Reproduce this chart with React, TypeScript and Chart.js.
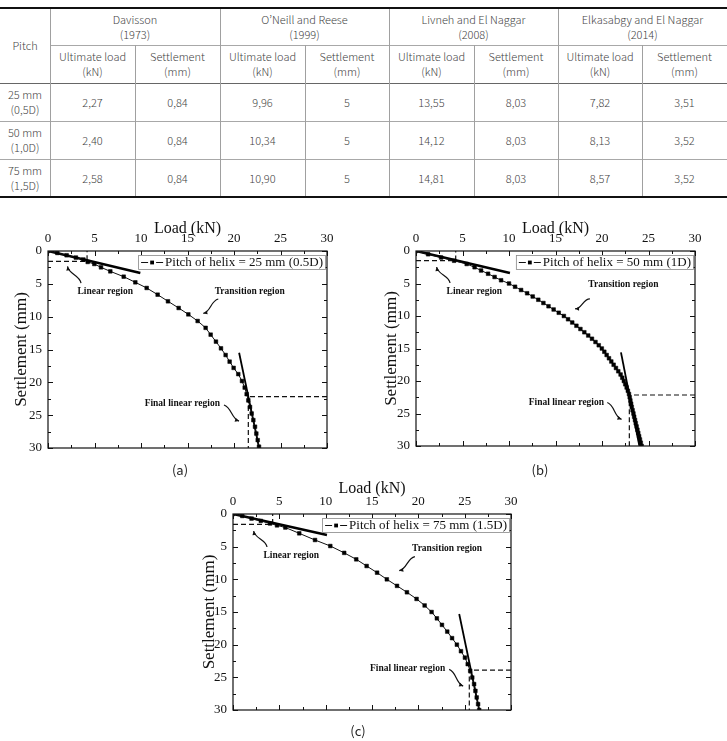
import React, { useEffect, useRef } from 'react';
import { Chart, registerables } from 'chart.js';

Chart.register(...registerables);

const SERIF = '"Liberation Serif", "Times New Roman", serif';
const SANS = '"Noto Sans CJK KR", "Noto Sans", sans-serif';

// ---------- Table: ultimate capacity by interpretation method ----------
const methodNames = ['Davisson', 'O\u2019Neill and Reese', 'Livneh and El Naggar', 'Elkasabgy and El Naggar'];
const methodYears = ['(1973)', '(1999)', '(2008)', '(2014)'];
const pitchNames = ['25 mm', '50 mm', '75 mm'];
const pitchRatios = ['(0,5D)', '(1,0D)', '(1,5D)'];
const davissonLoad = [2.27, 2.4, 2.58];
const davissonSettlement = [0.84, 0.84, 0.84];
const oneillLoad = [9.96, 10.34, 10.9];
const oneillSettlement = [5, 5, 5];
const livnehLoad = [13.55, 14.12, 14.81];
const livnehSettlement = [8.03, 8.03, 8.03];
const elkasabgyLoad = [7.82, 8.13, 8.57];
const elkasabgySettlement = [3.51, 3.52, 3.52];

// ---------- Axes ----------
const axisMin = 0;
const axisMax = 30;
const majorStep = 5;
const minorStep = 2.5;

// ---------- Load–settlement curves ----------
const label25 = 'Pitch of helix = 25 mm (0.5D)';
const load25 = [0, 1.0, 2.0, 3.0, 3.8, 4.27, 4.98, 5.7, 6.7, 8.14, 9.39, 10.61, 11.79, 12.9, 14.05, 15.09, 16.09, 16.95, 17.49, 18.06, 18.6, 19.1, 19.53, 19.96, 20.46, 20.86, 21.15, 21.36, 21.54, 21.72, 21.9, 22.08, 22.26, 22.4, 22.55, 22.69];
const settle25 = [0, 0.3, 0.65, 1.0, 1.3, 1.67, 1.98, 2.49, 3.1, 3.91, 4.77, 5.63, 6.65, 7.66, 8.68, 9.65, 10.66, 11.7, 12.74, 13.8, 14.82, 15.84, 16.85, 17.8, 18.75, 19.8, 20.8, 21.8, 22.75, 23.75, 24.75, 25.75, 26.76, 27.8, 28.8, 29.8];

const label50 = 'Pitch of helix = 50 mm (1D)';
const load50 = [0, 1.3, 2.7, 4.1, 5.45, 6.3, 7.0, 7.75, 8.45, 9.15, 10.0, 10.65, 11.3, 11.95, 12.55, 13.15, 13.7, 14.25, 14.8, 15.35, 15.9, 16.35, 16.8, 17.25, 17.68, 18.1, 18.52, 18.92, 19.3, 19.65, 19.98, 20.25, 20.5, 20.75, 21.0, 21.25, 21.5, 21.75, 22.0, 22.18, 22.35, 22.5, 22.65, 22.78, 22.9, 22.98, 23.05, 23.13, 23.2, 23.29, 23.38, 23.46, 23.55, 23.63, 23.72, 23.81, 23.9, 23.99, 24.08, 24.17, 24.27];
const settle50 = [0, 0.5, 1.0, 1.5, 2.0, 2.5, 3.0, 3.5, 4.0, 4.5, 5.0, 5.5, 6.0, 6.5, 7.0, 7.5, 8.0, 8.5, 9.0, 9.5, 10.0, 10.5, 11.0, 11.5, 12.0, 12.5, 13.0, 13.5, 14.0, 14.5, 15.0, 15.5, 16.0, 16.5, 17.0, 17.5, 18.0, 18.5, 19.0, 19.5, 20.0, 20.5, 21.0, 21.5, 22.0, 22.5, 23.0, 23.5, 24.0, 24.5, 25.0, 25.5, 26.0, 26.5, 27.0, 27.5, 28.0, 28.5, 29.0, 29.5, 30.0];

const label75 = 'Pitch of helix = 75 mm (1.5D)';
const load75 = [0, 1.0, 2.0, 3.0, 4.0, 4.75, 5.65, 7.15, 8.85, 10.5, 12.0, 13.3, 14.42, 15.55, 16.6, 17.7, 18.77, 19.81, 20.68, 21.43, 22.0, 22.55, 23.12, 23.64, 24.16, 24.6, 25.03, 25.33, 25.6, 25.82, 26.02, 26.16, 26.3, 26.45, 26.57];
const settle75 = [0, 0.3, 0.7, 1.05, 1.45, 1.74, 2.07, 2.96, 3.98, 4.9, 5.95, 6.94, 7.96, 8.98, 10.0, 11.0, 11.98, 13.0, 14.0, 15.0, 15.97, 16.97, 18.0, 19.0, 20.0, 21.0, 21.98, 22.98, 24.0, 25.03, 26.04, 27.07, 28.08, 29.1, 30];

// ---------- Tangent lines (initial and final linear regions) ----------
const initialFitLoad25 = [0, 9.93];
const initialFitSettle25 = [0, 3.35];
const finalFitLoad25 = [20.55, 22.7];
const finalFitSettle25 = [15.5, 30];

const initialFitLoad50 = [0, 10.1];
const initialFitSettle50 = [0, 3.38];
const finalFitLoad50 = [22.04, 24.02];
const finalFitSettle50 = [15.6, 30];

const initialFitLoad75 = [0, 10.14];
const initialFitSettle75 = [0, 3.22];
const finalFitLoad75 = [24.41, 26.57];
const finalFitSettle75 = [15.3, 30];

// ---------- Dashed guide lines ----------
const initialGuideLoad25 = [0, 4.2, 4.2];
const initialGuideSettle25 = [1.57, 1.57, 0];
const ultimateGuideLoad25 = [30, 21.54, 21.54];
const ultimateGuideSettle25 = [22.18, 22.18, 30];

const initialGuideLoad50 = [0, 4.27, 4.27];
const initialGuideSettle50 = [1.49, 1.49, 0];
const ultimateGuideLoad50 = [30, 22.94, 22.94];
const ultimateGuideSettle50 = [22.15, 22.15, 30];

const initialGuideLoad75 = [0, 4.28, 4.28];
const initialGuideSettle75 = [1.58, 1.58, 0];
const ultimateGuideLoad75 = [30, 25.5, 25.5];
const ultimateGuideSettle75 = [23.9, 23.9, 30];

type Note = { text: string; x: number; y: number };
type Pointer = { from: [number, number]; to: [number, number]; bend: number };

const notes25: Note[] = [
  { text: 'Linear region', x: 6.15, y: 6.15 },
  { text: 'Transition region', x: 21.69, y: 6.2 },
  { text: 'Final linear region', x: 14.44, y: 23.3 },
];
const pointers25: Pointer[] = [
  { from: [3.55, 4.9], to: [2.1, 2.35], bend: 4 },
  { from: [18.31, 7.31], to: [16.7, 9.5], bend: 4 },
  { from: [18.92, 23.45], to: [20.54, 25.9], bend: -4 },
];
const notes50: Note[] = [
  { text: 'Linear region', x: 6.27, y: 6.3 },
  { text: 'Transition region', x: 22.3, y: 5.23 },
  { text: 'Final linear region', x: 16.17, y: 23.3 },
];
const pointers50: Pointer[] = [
  { from: [3.66, 4.92], to: [2.22, 2.46], bend: 4 },
  { from: [18.7, 7.38], to: [17.1, 8.9], bend: 4 },
  { from: [20.57, 23.3], to: [22.1, 25.9], bend: -4 },
];
const notes75: Note[] = [
  { text: 'Linear region', x: 6.29, y: 6.43 },
  { text: 'Transition region', x: 23.1, y: 5.25 },
  { text: 'Final linear region', x: 18.84, y: 23.6 },
];
const pointers75: Pointer[] = [
  { from: [3.67, 5.05], to: [2.23, 2.6], bend: 4 },
  { from: [19.63, 6.53], to: [17.94, 8.68], bend: 4 },
  { from: [23.33, 23.78], to: [24.84, 26.34], bend: -4 },
];

const zip = (xs: number[], ys: number[]) => xs.map((v, i) => ({ x: v, y: ys[i] }));

function formatValue(v: number): string {
  return Number.isInteger(v) ? String(v) : v.toFixed(2).replace('.', ',');
}

type CurveProps = {
  left: number;
  top: number;
  width: number;
  height: number;
  yAxisWidth: number;
  xAxisHeight: number;
  padRight: number;
  padBottom: number;
  yTitlePad: number;
  xTitlePad: number;
  label: string;
  load: number[];
  settlement: number[];
  initialFit: [number[], number[]];
  finalFit: [number[], number[]];
  initialGuide: [number[], number[]];
  ultimateGuide: [number[], number[]];
  notes: Note[];
  pointers: Pointer[];
};

function drawPointer(ctx: CanvasRenderingContext2D, x0: number, y0: number, x1: number, y1: number, bend: number) {
  const dx = x1 - x0;
  const dy = y1 - y0;
  const len = Math.hypot(dx, dy) || 1;
  const nx = -dy / len;
  const ny = dx / len;
  const c1x = x0 + dx / 3 + nx * bend;
  const c1y = y0 + dy / 3 + ny * bend;
  const c2x = x0 + (2 * dx) / 3 - nx * bend;
  const c2y = y0 + (2 * dy) / 3 - ny * bend;
  ctx.beginPath();
  ctx.moveTo(x0, y0);
  ctx.bezierCurveTo(c1x, c1y, c2x, c2y, x1, y1);
  ctx.lineWidth = 1.2;
  ctx.stroke();
  const ang = Math.atan2(y1 - c2y, x1 - c2x);
  const h = 4.5;
  ctx.beginPath();
  ctx.moveTo(x1, y1);
  ctx.lineTo(x1 - h * Math.cos(ang - 0.45), y1 - h * Math.sin(ang - 0.45));
  ctx.lineTo(x1 - h * Math.cos(ang + 0.45), y1 - h * Math.sin(ang + 0.45));
  ctx.closePath();
  ctx.fill();
}

function CurveChart(p: CurveProps) {
  const ref = useRef<HTMLCanvasElement | null>(null);

  useEffect(() => {
    if (!ref.current) return;

    const decor = {
      id: 'decor',
      afterDatasetsDraw(chart: any) {
        const { ctx, chartArea: a, scales } = chart;
        const xs = scales.x;
        const ys = scales.y;
        ctx.save();
        // plot frame
        ctx.strokeStyle = '#111';
        ctx.lineWidth = 1.2;
        ctx.strokeRect(a.left, a.top, a.right - a.left, a.bottom - a.top);
        // inward ticks on all four sides
        ctx.beginPath();
        ctx.lineWidth = 1;
        for (let v = axisMin; v <= axisMax + 1e-9; v += minorStep) {
          const len = Math.abs(v % majorStep) < 1e-9 ? 5 : 3;
          const px = Math.round(xs.getPixelForValue(v)) + 0.5;
          ctx.moveTo(px, a.top);
          ctx.lineTo(px, a.top + len);
          ctx.moveTo(px, a.bottom);
          ctx.lineTo(px, a.bottom - len);
          const py = Math.round(ys.getPixelForValue(v)) + 0.5;
          ctx.moveTo(a.left, py);
          ctx.lineTo(a.left + len, py);
          ctx.moveTo(a.right, py);
          ctx.lineTo(a.right - len, py);
        }
        ctx.stroke();

        // region labels and pointers
        ctx.fillStyle = '#111';
        ctx.strokeStyle = '#111';
        ctx.font = `bold 9.5px ${SERIF}`;
        ctx.textAlign = 'center';
        ctx.textBaseline = 'middle';
        p.notes.forEach((n) => {
          ctx.fillText(n.text, xs.getPixelForValue(n.x), ys.getPixelForValue(n.y));
        });
        p.pointers.forEach((q) => {
          drawPointer(
            ctx,
            xs.getPixelForValue(q.from[0]),
            ys.getPixelForValue(q.from[1]),
            xs.getPixelForValue(q.to[0]),
            ys.getPixelForValue(q.to[1]),
            q.bend
          );
        });

        // legend box
        const ds = chart.data.datasets[0];
        ctx.font = `13px ${SERIF}`;
        const tw = ctx.measureText(ds.label).width;
        const bw = tw + 29;
        const bh = 14;
        const bx = a.right - 2 - bw;
        const by = a.top + 4;
        ctx.fillStyle = '#fff';
        ctx.fillRect(bx, by, bw, bh);
        ctx.strokeStyle = '#888';
        ctx.lineWidth = 0.8;
        ctx.strokeRect(bx + 0.5, by + 0.5, bw, bh);
        const ly = by + bh / 2 + 0.5;
        ctx.strokeStyle = '#111';
        ctx.lineWidth = 1;
        ctx.beginPath();
        ctx.moveTo(bx + 3, ly);
        ctx.lineTo(bx + 10, ly);
        ctx.moveTo(bx + 18, ly);
        ctx.lineTo(bx + 25, ly);
        ctx.stroke();
        ctx.fillStyle = '#000';
        ctx.fillRect(bx + 14 - 1.9, ly - 1.9, 3.8, 3.8);
        ctx.fillStyle = '#111';
        ctx.textAlign = 'left';
        ctx.textBaseline = 'middle';
        ctx.fillText(ds.label, bx + 27, ly + 0.5);
        ctx.restore();
      },
    };

    const tickFont = { family: SERIF, size: 13 };

    const chart = new Chart(ref.current, {
      type: 'line',
      data: {
        datasets: [
          {
            label: p.label,
            data: zip(p.load, p.settlement),
            borderColor: '#111',
            borderWidth: 1,
            pointStyle: 'rect',
            pointRadius: 2.6,
            pointBackgroundColor: '#000',
            pointBorderColor: '#000',
            pointBorderWidth: 0.5,
            tension: 0,
          },
          {
            label: 'initial tangent',
            data: zip(p.initialFit[0], p.initialFit[1]),
            borderColor: '#000',
            borderWidth: 2.6,
            pointRadius: 0,
          },
          {
            label: 'final tangent',
            data: zip(p.finalFit[0], p.finalFit[1]),
            borderColor: '#000',
            borderWidth: 1.8,
            pointRadius: 0,
          },
          {
            label: 'initial guide',
            data: zip(p.initialGuide[0], p.initialGuide[1]),
            borderColor: '#111',
            borderWidth: 1.2,
            borderDash: [5, 3],
            pointRadius: 0,
          },
          {
            label: 'ultimate guide',
            data: zip(p.ultimateGuide[0], p.ultimateGuide[1]),
            borderColor: '#111',
            borderWidth: 1.2,
            borderDash: [5, 3],
            pointRadius: 0,
          },
        ],
      } as any,
      options: {
        responsive: false,
        animation: false,
        events: [],
        layout: { padding: { left: 0, top: 0, right: p.padRight, bottom: p.padBottom } },
        plugins: { legend: { display: false }, tooltip: { enabled: false } },
        scales: {
          x: {
            type: 'linear',
            position: 'top',
            min: axisMin,
            max: axisMax,
            ticks: { stepSize: majorStep, padding: 5, font: tickFont, color: '#111', maxRotation: 0, autoSkip: false },
            grid: { display: false, drawTicks: false },
            border: { display: false },
            title: {
              display: true,
              text: 'Load (kN)',
              color: '#111',
              font: { family: SERIF, size: 16 },
              padding: { top: p.xTitlePad, bottom: 0 },
            },
            afterFit: (s: any) => {
              s.height = p.xAxisHeight;
            },
          },
          y: {
            type: 'linear',
            reverse: true,
            min: axisMin,
            max: axisMax,
            ticks: { stepSize: majorStep, padding: 6, font: tickFont, color: '#111', autoSkip: false },
            grid: { display: false, drawTicks: false },
            border: { display: false },
            title: {
              display: true,
              text: 'Settlement (mm)',
              color: '#111',
              font: { family: SERIF, size: 17 },
              padding: { top: p.yTitlePad, bottom: 0 },
            },
            afterFit: (s: any) => {
              s.width = p.yAxisWidth;
            },
          },
        },
      } as any,
      plugins: [decor],
    });
    return () => chart.destroy();
  }, []);

  return (
    <canvas
      ref={ref}
      width={p.width}
      height={p.height}
      style={{ position: 'absolute', left: p.left, top: p.top, width: p.width, height: p.height }}
    />
  );
}

function CapacityTable() {
  const cols = [0, 50, 135, 220, 305, 389, 474, 558, 642, 727];
  const rows = [8, 45, 83, 121, 159, 197];
  const loads = [davissonLoad, oneillLoad, livnehLoad, elkasabgyLoad];
  const settles = [davissonSettlement, oneillSettlement, livnehSettlement, elkasabgySettlement];

  const cell = (key: string, x0: number, x1: number, y0: number, y1: number, lines: string[]) => (
    <div
      key={key}
      style={{
        position: 'absolute',
        left: x0,
        top: y0,
        width: x1 - x0,
        height: y1 - y0,
        display: 'flex',
        flexDirection: 'column',
        alignItems: 'center',
        justifyContent: 'center',
        fontFamily: SANS,
        fontSize: 11,
        fontWeight: 300,
        lineHeight: '15px',
        color: '#444',
        whiteSpace: 'nowrap',
      }}
    >
      {lines.map((l, i) => (
        <div key={i}>{l}</div>
      ))}
    </div>
  );

  const hLine = (key: string, x0: number, x1: number, y: number, h: number, color: string) => (
    <div key={key} style={{ position: 'absolute', left: x0, top: y, width: x1 - x0, height: h, background: color }} />
  );
  const vLine = (key: string, x: number, y0: number, y1: number) => (
    <div key={key} style={{ position: 'absolute', left: x, top: y0, width: 1, height: y1 - y0, background: '#a0a0a0' }} />
  );

  const items: React.ReactNode[] = [];
  items.push(hLine('top', 0, 727, rows[0] - 1, 2, '#111'));
  items.push(hLine('h1', cols[1], 727, rows[1], 1, '#a8a8a8'));
  items.push(hLine('h2', 0, 727, rows[2], 1, '#666'));
  items.push(hLine('h3', 0, 727, rows[3], 1, '#a8a8a8'));
  items.push(hLine('h4', 0, 727, rows[4], 1, '#a8a8a8'));
  items.push(hLine('bot', 0, 727, rows[5] - 1, 2, '#111'));
  [1, 3, 5, 7].forEach((c) => items.push(vLine('vg' + c, cols[c], rows[0] + 1, rows[5] - 1)));
  [2, 4, 6, 8].forEach((c) => items.push(vLine('vs' + c, cols[c], rows[1], rows[5] - 1)));

  items.push(cell('pitch', cols[0], cols[1], rows[0], rows[2], ['Pitch']));
  methodNames.forEach((m, i) => {
    const c0 = 1 + i * 2;
    items.push(cell('m' + i, cols[c0], cols[c0 + 2], rows[0], rows[1], [m, methodYears[i]]));
    items.push(cell('ul' + i, cols[c0], cols[c0 + 1], rows[1], rows[2], ['Ultimate load', '(kN)']));
    items.push(cell('st' + i, cols[c0 + 1], cols[c0 + 2], rows[1], rows[2], ['Settlement', '(mm)']));
  });
  pitchNames.forEach((pn, r) => {
    items.push(cell('p' + r, cols[0], cols[1], rows[2 + r], rows[3 + r], [pn, pitchRatios[r]]));
    loads.forEach((arr, i) => {
      const c0 = 1 + i * 2;
      items.push(cell(`l${r}${i}`, cols[c0], cols[c0 + 1], rows[2 + r], rows[3 + r], [formatValue(arr[r])]));
      items.push(cell(`s${r}${i}`, cols[c0 + 1], cols[c0 + 2], rows[2 + r], rows[3 + r], [formatValue(settles[i][r])]));
    });
  });

  return <>{items}</>;
}

function Caption({ text, x, y }: { text: string; x: number; y: number }) {
  return (
    <div
      style={{
        position: 'absolute',
        left: x - 20,
        top: y - 9,
        width: 40,
        height: 18,
        lineHeight: '18px',
        textAlign: 'center',
        fontFamily: SANS,
        fontSize: 13,
        color: '#222',
      }}
    >
      {text}
    </div>
  );
}

export default function App() {
  return (
    <div
      style={{
        position: 'fixed',
        left: 0,
        top: 0,
        width: 727,
        height: 741,
        background: '#fff',
        overflow: 'hidden',
      }}
    >
      <CapacityTable />
      <CurveChart
        left={0}
        top={205}
        width={360}
        height={262}
        yAxisWidth={48}
        xAxisHeight={46}
        padRight={33}
        padBottom={19}
        yTitlePad={11.5}
        xTitlePad={13.7}
        label={label25}
        load={load25}
        settlement={settle25}
        initialFit={[initialFitLoad25, initialFitSettle25]}
        finalFit={[finalFitLoad25, finalFitSettle25]}
        initialGuide={[initialGuideLoad25, initialGuideSettle25]}
        ultimateGuide={[ultimateGuideLoad25, ultimateGuideSettle25]}
        notes={notes25}
        pointers={pointers25}
      />
      <CurveChart
        left={368}
        top={205}
        width={359}
        height={262}
        yAxisWidth={48}
        xAxisHeight={46}
        padRight={32}
        padBottom={21}
        yTitlePad={13.5}
        xTitlePad={13.7}
        label={label50}
        load={load50}
        settlement={settle50}
        initialFit={[initialFitLoad50, initialFitSettle50]}
        finalFit={[finalFitLoad50, finalFitSettle50]}
        initialGuide={[initialGuideLoad50, initialGuideSettle50]}
        ultimateGuide={[ultimateGuideLoad50, ultimateGuideSettle50]}
        notes={notes50}
        pointers={pointers50}
      />
      <CurveChart
        left={180}
        top={468}
        width={360}
        height={262}
        yAxisWidth={53}
        xAxisHeight={46}
        padRight={29}
        padBottom={20}
        yTitlePad={19}
        xTitlePad={11.4}
        label={label75}
        load={load75}
        settlement={settle75}
        initialFit={[initialFitLoad75, initialFitSettle75]}
        finalFit={[finalFitLoad75, finalFitSettle75]}
        initialGuide={[initialGuideLoad75, initialGuideSettle75]}
        ultimateGuide={[ultimateGuideLoad75, ultimateGuideSettle75]}
        notes={notes75}
        pointers={pointers75}
      />
      <Caption text="(a)" x={180} y={470} />
      <Caption text="(b)" x={540} y={470} />
      <Caption text="(c)" x={358} y={731} />
    </div>
  );
}
